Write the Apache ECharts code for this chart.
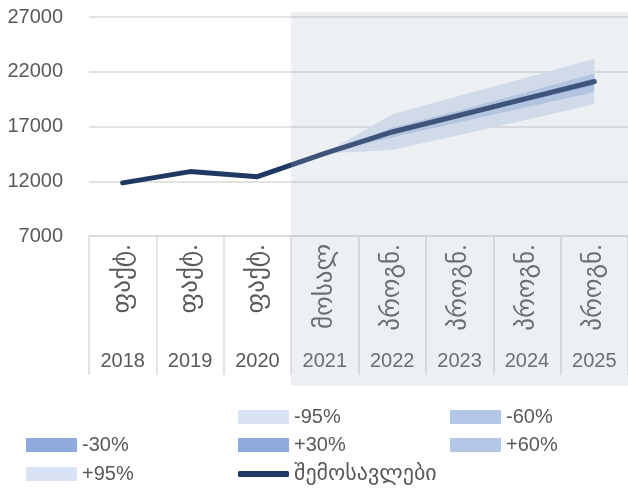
<!DOCTYPE html>
<html>
<head>
<meta charset="utf-8">
<script src="https://cdn.jsdelivr.net/npm/echarts@6/dist/echarts.min.js"></script>
<style>
html,body{margin:0;padding:0;background:#fff;}
#chart{width:628px;height:491px;}
</style>
</head>
<body>
<div id="chart"></div>
<script>
const categories = ['2018','2019','2020','2021','2022','2023','2024','2025'];
const phaseLabels = ['ფაქტ.','ფაქტ.','ფაქტ.','მოსალ','პროგნ.','პროგნ.','პროგნ.','პროგნ.'];
const yTicks = [7000, 12000, 17000, 22000, 27000];
const revenue = [11850, 12880, 12420, 14540, 16500, 18030, 19570, 21100];
const lower95 = [null, null, null, 14540, 14850, 16230, 17620, 19040];
const lower60 = [null, null, null, 14540, 16000, 17380, 18760, 20120];
const lower30 = [null, null, null, 14540, 16350, 17800, 19270, 20750];
const upper30 = [null, null, null, 14540, 16650, 18260, 19860, 21450];
const upper60 = [null, null, null, 14540, 16900, 18500, 20170, 21870];
const upper95 = [null, null, null, 14540, 18120, 19800, 21470, 23180];
const shadeFromCategory = '2021';
const lineName = 'შემოსავლები';

const FONT = "'Liberation Sans', 'DejaVu Sans', sans-serif";
const TXT = '#595959';
const GRID_C = '#d9d9d9';

function diff(a, b) {
  return a.map((v, i) => (v == null || b[i] == null) ? null : v - b[i]);
}

function band(name, data, color) {
  return {
    name: name, type: 'line', stack: 'band', data: data,
    symbol: 'none', showSymbol: false, color: color,
    itemStyle: {color: color},
    lineStyle: {width: 0, opacity: 0},
    areaStyle: {color: color, opacity: 1},
    z: 2
  };
}

// legend cells: [name, column, row]
const legendCells = [
  ['-95%', 1, 0], ['-60%', 2, 0],
  ['-30%', 0, 1], ['+30%', 1, 1], ['+60%', 2, 1],
  ['+95%', 0, 2], [lineName, 1, 2]
];
const legendColX = [26, 238, 450];
const legendRowY = [417, 445, 474];

const legends = legendCells.map(function (c) {
  const isLine = c[0] === lineName;
  const fs = isLine ? 22 : 20;
  return {
    left: legendColX[c[1]], top: legendRowY[c[2]] - fs / 2,
    orient: 'horizontal', padding: 0,
    itemWidth: 51, itemHeight: isLine ? 6 : 14, itemGap: 5,
    selectedMode: false,
    icon: isLine ? 'roundRect' : 'rect',
    textStyle: {fontSize: fs, color: TXT, fontFamily: FONT, lineHeight: fs},
    data: [c[0]]
  };
});

const chart = echarts.init(document.getElementById('chart'), null, {renderer: 'canvas'});

chart.setOption({
  animation: false,
  textStyle: {fontFamily: FONT},
  grid: [
    {left: 89, right: -8, top: 17, bottom: 255, containLabel: false},
    {left: 89, right: -8, top: 12, bottom: 105, containLabel: false}
  ],
  legend: legends,
  xAxis: [
    {
      type: 'category', gridIndex: 0, data: categories, position: 'bottom', boundaryGap: true,
      axisLine: {show: true, lineStyle: {color: GRID_C, width: 1.5}},
      axisTick: {show: true, length: 139, lineStyle: {color: GRID_C, width: 1.5}},
      axisLabel: {margin: 115, fontSize: 20, color: TXT, fontFamily: FONT, interval: 0}
    },
    {
      type: 'category', gridIndex: 0, data: categories, position: 'bottom', boundaryGap: true,
      axisLine: {show: false}, axisTick: {show: false},
      axisLabel: {
        margin: 8, rotate: 90, fontSize: 25, color: TXT, fontFamily: FONT, interval: 0,
        formatter: function (v, i) { return phaseLabels[i]; }
      }
    },
    {type: 'value', gridIndex: 1, min: 0, max: categories.length, show: false}
  ],
  yAxis: [
    {
      type: 'value', gridIndex: 0,
      min: yTicks[0], max: yTicks[yTicks.length - 1], interval: yTicks[1] - yTicks[0],
      axisLine: {show: false}, axisTick: {show: false},
      axisLabel: {margin: 26, fontSize: 20, color: TXT, fontFamily: FONT,
        formatter: function (v) { return String(v); }},
      splitLine: {show: true, lineStyle: {color: GRID_C, width: 1.5}}
    },
    {type: 'value', gridIndex: 1, min: 0, max: 1, show: false}
  ],
  series: [
    {
      name: 'base', type: 'line', stack: 'band', data: lower95,
      symbol: 'none', showSymbol: false, lineStyle: {width: 0, opacity: 0}, silent: true, z: 2
    },
    band('-95%', diff(lower60, lower95), '#dae3f3'),
    band('-60%', diff(lower30, lower60), '#b4c7e7'),
    band('-30%', diff(revenue.map((v, i) => lower30[i] == null ? null : v), lower30), '#8faadc'),
    band('+30%', diff(upper30, revenue), '#8faadc'),
    band('+60%', diff(upper60, upper30), '#b4c7e7'),
    band('+95%', diff(upper95, upper60), '#dae3f3'),
    {
      name: lineName, type: 'line', data: revenue,
      symbol: 'none', showSymbol: false, color: '#1f3864',
      itemStyle: {color: '#1f3864'},
      lineStyle: {width: 5, color: '#1f3864', cap: 'round', join: 'round'},
      z: 3
    },
    {
      type: 'line', xAxisIndex: 2, yAxisIndex: 1, data: [], silent: true,
      markArea: {
        silent: true, z: 10,
        itemStyle: {color: 'rgba(173,185,202,0.22)', borderWidth: 0},
        data: [[{xAxis: categories.indexOf(shadeFromCategory), yAxis: 0}, {xAxis: categories.length, yAxis: 1}]]
      }
    }
  ]
});
</script>
</body>
</html>
